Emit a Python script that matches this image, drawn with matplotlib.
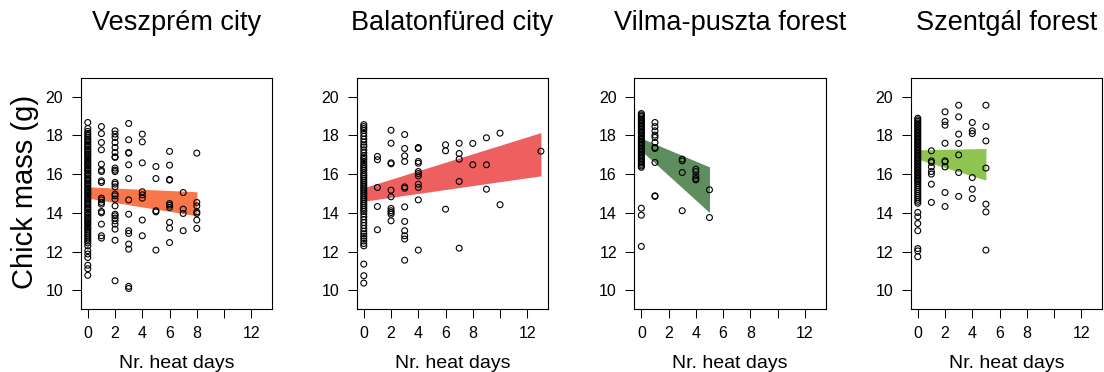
import matplotlib
matplotlib.use("Agg")
import matplotlib.pyplot as plt

plt.rcParams['font.family'] = ['Liberation Sans', 'DejaVu Sans']

titles = ["Veszprém city", "Balatonfüred city", "Vilma-puszta forest", "Szentgál forest"]
band_colors = ["#F7764A", "#EE5F5F", "#5E8E5E", "#90C450"]

# heat days -> chick mass values per site
vesz = {
    0: [18.66, 18.35, 18.2, 18.1, 18.0, 17.9, 17.8, 17.72, 17.65, 17.55, 17.48, 17.4, 17.3, 17.22,
        17.15, 17.05, 16.98, 16.9, 16.8, 16.72, 16.65, 16.55, 16.48, 16.4, 16.3, 16.22, 16.15, 16.05,
        15.98, 15.9, 15.8, 15.72, 15.65, 15.55, 15.48, 15.4, 15.3, 15.22, 15.15, 15.05, 14.98, 14.9,
        14.8, 14.72, 14.65, 14.55, 14.48, 14.4, 14.3, 14.22, 14.15, 14.05, 13.98, 13.9, 13.8, 13.72,
        13.65, 13.55, 13.48, 13.4, 13.3, 13.22, 13.15, 13.05, 12.95, 12.85, 12.75, 12.65, 12.55,
        12.45, 12.3, 12.05, 11.88, 11.7, 11.3, 11.12, 10.78],
    1: [18.45, 18.09, 17.63, 17.25, 16.51, 16.2, 16.13, 15.65, 15.57, 14.76, 14.67, 14.54, 14.45,
        14.07, 14.0, 13.42, 12.82, 12.7],
    2: [18.23, 18.06, 17.89, 17.63, 17.37, 17.11, 16.89, 16.86, 16.31, 16.2, 16.13, 15.57, 15.48,
        15.34, 14.97, 14.88, 14.71, 14.36, 13.93, 13.85, 13.73, 13.59, 13.42, 13.16, 12.59, 10.5],
    3: [18.61, 17.77, 17.11, 17.08, 16.48, 15.77, 14.67, 13.93, 13.08, 12.94, 12.39, 12.13, 10.21, 10.1],
    4: [18.06, 17.66, 16.58, 15.09, 14.93, 14.76, 13.63, 12.82],
    5: [16.39, 15.77, 14.11, 14.05, 12.08],
    6: [17.17, 16.46, 15.72, 15.69, 14.48, 14.4, 14.28, 13.51, 13.21, 12.47],
    7: [15.05, 14.19, 13.97, 13.08],
    8: [17.08, 14.54, 14.36, 14.05, 13.97, 13.63, 13.2],
}
bala = {
    0: [18.55, 18.45, 18.35, 18.25, 18.1, 17.95, 17.8, 17.65, 17.5, 17.4, 17.25, 17.1, 16.95, 16.85,
        16.75, 16.62, 16.5, 16.4, 16.3, 16.2, 16.08, 15.98, 15.88, 15.78, 15.68, 15.58, 15.48, 15.38,
        15.28, 15.18, 15.08, 14.98, 14.88, 14.78, 14.68, 14.58, 14.48, 14.38, 14.28, 14.18, 14.08,
        13.95, 13.8, 13.65, 13.5, 13.35, 13.2, 13.05, 12.92, 12.8, 12.68, 12.55, 12.42, 12.3, 11.36,
        10.76, 10.38],
    1: [16.91, 16.74, 15.31, 14.33, 13.13],
    2: [18.26, 17.59, 16.58, 16.53, 15.17, 14.83, 14.23, 14.11, 14.02, 13.93, 13.59],
    3: [18.04, 17.32, 16.94, 16.65, 15.34, 15.27, 14.31, 13.56, 13.08, 12.82, 12.65, 11.56],
    4: [17.37, 17.32, 16.65, 16.56, 16.13, 16.03, 15.91, 15.48, 15.31, 14.67, 12.08],
    6: [17.51, 17.2, 14.19],
    7: [17.59, 17.06, 16.77, 15.62, 12.18],
    8: [17.58, 16.48],
    9: [17.87, 16.48, 15.22],
    10: [18.11, 14.42],
    13: [17.18],
}
vilma = {
    0: [19.12, 19.05, 18.98, 18.9, 18.82, 18.75, 18.68, 18.6, 18.52, 18.45, 18.38, 18.3, 18.22, 18.15,
        18.08, 18.0, 17.92, 17.85, 17.78, 17.7, 17.62, 17.55, 17.48, 17.4, 17.32, 17.25, 17.18, 17.1,
        17.02, 16.95, 16.88, 16.8, 16.72, 16.65, 16.58, 16.5, 16.42, 16.35, 14.24, 13.88, 12.27],
    1: [18.66, 18.45, 18.23, 18.01, 17.89, 17.63, 17.37, 17.32, 16.6, 14.88, 14.85],
    3: [16.77, 16.68, 16.08, 14.11],
    4: [16.25, 16.13, 15.91, 15.77, 15.7],
    5: [15.19, 13.76],
}
szent = {
    0: [18.88, 18.8, 18.72, 18.64, 18.56, 18.48, 18.4, 18.32, 18.24, 18.16, 18.08, 18.0, 17.92, 17.84,
        17.76, 17.68, 17.6, 17.52, 17.44, 17.36, 17.28, 17.2, 17.12, 17.04, 16.96, 16.88, 16.8, 16.72,
        16.64, 16.56, 16.48, 16.4, 16.32, 16.24, 16.16, 16.08, 16.0, 15.92, 15.84, 15.76, 15.68, 15.6,
        15.5, 15.4, 15.3, 15.2, 15.1, 15.0, 14.9, 14.8, 14.7, 14.6, 14.5, 14.02, 13.8, 13.45, 13.08,
        12.16, 12.04, 11.74],
    1: [17.2, 16.68, 16.6, 16.37, 16.13, 16.0, 15.48, 14.54],
    2: [19.21, 18.71, 18.52, 17.59, 16.68, 16.63, 16.37, 15.05, 14.33],
    3: [19.55, 18.95, 18.06, 17.58, 16.99, 16.08, 14.85],
    4: [18.66, 18.23, 18.09, 15.82, 15.22, 14.74],
    5: [19.55, 18.45, 17.71, 16.31, 14.45, 14.05, 12.08],
}
sites = [vesz, bala, vilma, szent]

# confidence band of the fitted line: x range, upper and lower edge at both ends
band_x = [(0, 8), (0, 13), (0, 5), (0, 5)]
band_upper = [(15.34, 15.09), (15.3, 18.14), (17.85, 16.37), (17.25, 17.32)]
band_lower = [(14.76, 13.85), (14.6, 15.91), (17.2, 14.02), (16.77, 15.69)]

x_ticks = [0, 2, 4, 6, 8, 10, 12]
x_tick_labels = ["0", "2", "4", "6", "8", "", "12"]
y_ticks = [10, 12, 14, 16, 18, 20]

fig = plt.figure(figsize=(11.04, 3.72), dpi=100)
lefts = [0.0731, 0.3231, 0.5745, 0.8249]

for i in range(4):
    ax = fig.add_axes([lefts[i], 0.1702, 0.1733, 0.6194])
    ax.fill_between(band_x[i], band_lower[i], band_upper[i], color=band_colors[i],
                    linewidth=0, zorder=1)
    xs, ys = [], []
    for k, vals in sites[i].items():
        xs += [k] * len(vals)
        ys += vals
    ax.scatter(xs, ys, s=18, facecolors='none', edgecolors='black', linewidths=0.8, zorder=2)

    ax.set_xlim(-0.52, 13.52)
    ax.set_ylim(9.06, 20.94)
    ax.set_xticks(x_ticks)
    ax.set_xticklabels(x_tick_labels)
    ax.set_yticks(y_ticks)
    ax.tick_params(direction='out', length=6.5, width=0.75, labelsize=11.5, pad=6)
    for sp in ax.spines.values():
        sp.set_linewidth(0.8)
    ax.set_title(titles[i], fontsize=19.5, pad=35)
    ax.set_xlabel("Nr. heat days", fontsize=14, labelpad=10)

fig.text(25 / 1104, 1 - 192 / 372, "Chick mass (g)", rotation=90, fontsize=21,
         ha='center', va='center')

plt.savefig("out.png", dpi=100)
